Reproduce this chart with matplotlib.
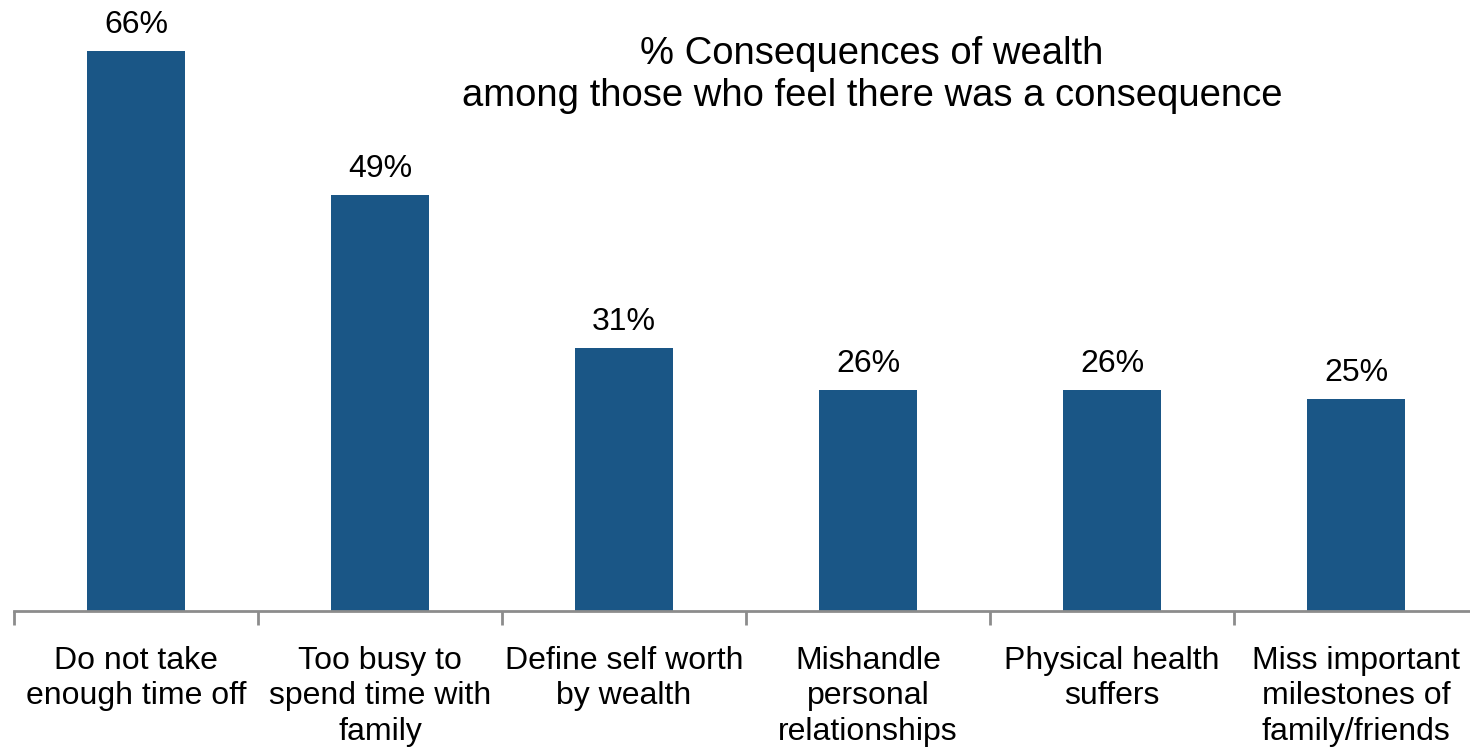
import matplotlib
matplotlib.use("Agg")
import matplotlib.pyplot as plt
from matplotlib.ticker import FixedLocator

categories = ["Do not take\nenough time off", "Too busy to\nspend time with\nfamily",
              "Define self worth\nby wealth", "Mishandle\npersonal\nrelationships",
              "Physical health\nsuffers", "Miss important\nmilestones of\nfamily/friends"]
values = [66, 49, 31, 26, 26, 25]
value_labels = ["66%", "49%", "31%", "26%", "26%", "25%"]
title = "% Consequences of wealth\namong those who feel there was a consequence"

plt.rcParams['font.family'] = ['Liberation Sans', 'DejaVu Sans']

W, H = 1470, 749
fig = plt.figure(figsize=(W / 100, H / 100), dpi=100)
ax = fig.add_axes([14 / W, (H - 611) / H, 1464 / W, 611 / H])

bar_color = "#1a5686"
x = list(range(len(categories)))
ax.bar(x, values, width=0.4, color=bar_color, zorder=2)
for xi, v, lab in zip(x, values, value_labels):
    ax.annotate(lab, (xi, v), xytext=(0, 8), textcoords="offset points",
                ha="center", va="bottom", fontsize=23, color="#000000")

ax.set_xlim(-0.5, 5.5)
ax.set_ylim(0, 72)
for s in ["top", "right", "left"]:
    ax.spines[s].set_visible(False)
ax.spines["bottom"].set_color("#8c8c8c")
ax.spines["bottom"].set_linewidth(2)
ax.set_yticks([])
ax.set_xticks(x)
ax.set_xticklabels(categories, fontsize=23, linespacing=1.22)
ax.tick_params(axis="x", which="major", length=0, pad=25.5)
ax.xaxis.set_minor_locator(FixedLocator([i - 0.5 for i in range(len(categories) + 1)]))
ax.tick_params(axis="x", which="minor", length=10, width=2, color="#8c8c8c")

fig.text(872 / W, 1 - 75 / H, title, ha="center", va="center", fontsize=27.5,
         linespacing=1.24)

fig.savefig("out.png", dpi=100)
